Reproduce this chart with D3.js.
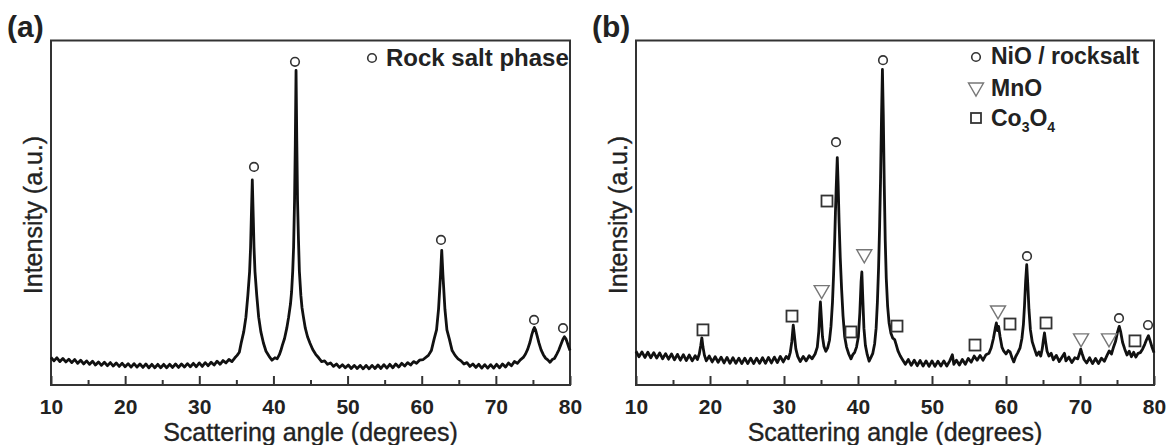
<!DOCTYPE html>
<html>
<head>
<meta charset="utf-8">
<script src="https://cdn.jsdelivr.net/npm/d3@7"></script>
<style>
  body { margin: 0; background: #fff; }
  svg { display: block; font-family: "Liberation Sans", Arial, sans-serif; }
</style>
</head>
<body>
<div class="graph-container"></div>
<script>
// x-axis tick values (degrees)
var majorTicks = [10, 20, 30, 40, 50, 60, 70, 80];
var minorTicks = [15, 25, 35, 45, 55, 65, 75];

// pattern (a): [angle, intensity a.u.]
var patternA = [
  [10.0,8.0],[10.4,7.0],[10.8,7.9],[11.2,6.8],[11.6,7.7],[12.0,6.7],[12.4,7.5],[12.8,6.5],[13.2,7.4],[13.6,6.3],
  [14.0,7.2],[14.4,6.1],[14.8,7.0],[15.2,6.0],[15.6,6.9],[16.0,5.8],[16.4,6.7],[16.8,5.7],[17.2,6.6],[17.6,5.6],
  [18.0,6.5],[18.4,5.5],[18.8,6.4],[19.2,5.4],[19.6,6.3],[20.0,5.3],[20.4,6.2],[20.8,5.2],[21.2,6.2],[21.6,5.2],
  [22.0,6.1],[22.4,5.1],[22.8,6.1],[23.2,5.0],[23.6,6.0],[24.0,5.0],[24.4,6.0],[24.8,5.0],[25.2,6.0],[25.6,5.0],
  [26.0,6.0],[26.4,5.1],[26.8,6.1],[27.2,5.1],[27.6,6.1],[28.0,5.2],[28.4,6.2],[28.8,5.3],[29.2,6.3],[29.6,5.3],
  [30.0,6.4],[30.4,5.4],[30.8,6.5],[31.2,5.6],[31.6,6.6],[32.0,5.8],[32.4,6.9],[32.8,6.0],[33.2,7.1],[33.6,6.4],
  [34.0,7.4],[34.4,6.8],[34.8,7.9],[35.1,8.6],[35.4,9.5],[35.65,12.2],[36.0,15.5],[36.29,19.7],[36.55,26],[36.79,33],
  [36.92,40],[37.02,48.7],[37.15,59.5],[37.28,48.7],[37.38,40],[37.51,33],[37.75,26],[38.01,19.7],[38.3,15.5],[38.65,12.2],
  [39.0,9.8],[39.4,8.4],[39.8,7.2],[40.2,7.9],[40.5,7.6],[40.8,8.8],[41.0,10.0],[41.2,11.5],[41.5,13.5],[41.8,16.5],
  [42.05,19.7],[42.3,23.5],[42.45,27],[42.6,33],[42.72,40],[42.85,53.6],[42.95,70],[43.05,91.3],[43.15,71],[43.25,53.6],
  [43.38,42],[43.5,33],[43.7,26],[43.85,22.5],[44.05,19.7],[44.3,16.5],[44.6,14],[44.92,12.2],[45.3,10.3],[45.7,8.9],
  [46.1,7.9],[46.5,6.8],[46.9,7.0],[47.3,6.0],[47.7,6.4],[48.1,5.4],[48.5,6.1],[48.9,5.1],[49.3,5.9],[49.7,5.0],
  [50.1,5.8],[50.5,4.8],[50.9,5.7],[51.3,4.8],[51.7,5.7],[52.1,4.7],[52.5,5.7],[52.9,4.7],[53.3,5.7],[53.7,4.8],
  [54.1,5.8],[54.5,4.8],[54.9,5.9],[55.3,4.9],[55.7,6.0],[56.1,5.0],[56.5,6.1],[56.9,5.2],[57.3,6.3],[57.7,5.5],
  [58.1,6.5],[58.5,5.8],[58.9,6.8],[59.3,6.3],[59.7,7.2],[60.2,7.4],[60.9,8.6],[61.3,10.0],[61.67,13.3],[62.0,16],
  [62.27,22],[62.54,32],[62.7,39.1],[62.86,32],[63.13,22],[63.4,16],[63.73,13.3],[64.1,10],[64.5,8.6],[64.9,7.6],
  [65.3,7.0],[65.7,6.1],[66.1,6.5],[66.5,5.4],[66.9,6.1],[67.3,5.1],[67.7,6.0],[68.1,4.9],[68.5,5.9],[68.9,4.9],
  [69.3,5.9],[69.7,4.9],[70.1,6.0],[70.5,5.0],[70.9,6.1],[71.3,5.2],[71.7,6.4],[72.1,5.6],[72.5,6.8],[72.9,6.3],
  [73.3,7.3],[73.7,8.0],[74.0,9.0],[74.3,10.4],[74.6,12.4],[74.85,14.6],[75.05,16.0],[75.2,16.7],[75.35,16.0],[75.55,14.4],
  [75.8,12.3],[76.1,10.2],[76.4,8.8],[76.7,7.8],[77.0,7.3],[77.3,6.6],[77.6,7.4],[77.9,7.7],[78.2,8.9],[78.5,10.2],
  [78.8,11.9],[79.05,13.3],[79.25,14.0],[79.45,13.4],[79.65,12.2],[79.85,10.9],[80.0,10.0]
];

// pattern (b)
var patternB = [
  [10.0,9.8],[10.4,8.2],[10.8,9.6],[11.2,8.0],[11.6,9.5],[12.0,7.9],[12.4,9.4],[12.8,7.8],[13.2,9.3],[13.6,7.6],
  [14.0,9.1],[14.4,7.5],[14.8,9.0],[15.2,7.3],[15.6,8.9],[16.0,7.2],[16.4,8.8],[16.8,7.1],[17.2,8.7],[17.6,7.0],
  [18.0,8.5],[18.3,7.4],[18.55,9.0],[18.75,11.5],[18.9,13.7],[19.05,11.0],[19.25,8.6],[19.5,7.0],[19.9,8.4],[20.3,6.7],
  [20.7,8.2],[21.1,6.6],[21.5,8.1],[21.9,6.4],[22.3,8.0],[22.7,6.3],[23.1,7.9],[23.5,6.3],[23.9,7.8],[24.3,6.2],
  [24.7,7.8],[25.1,6.2],[25.5,7.8],[25.9,6.2],[26.3,7.8],[26.7,6.3],[27.1,7.9],[27.5,6.3],[27.9,8.0],[28.3,6.4],
  [28.7,8.1],[29.1,6.5],[29.5,8.3],[29.9,6.7],[30.3,8.3],[30.6,7.6],[30.85,9.5],[31.05,12.5],[31.25,17.4],[31.4,14.5],
  [31.6,10.5],[31.85,8.3],[32.2,6.8],[32.6,8.3],[33.0,7.0],[33.4,8.5],[33.8,7.6],[34.2,9.0],[34.5,11.0],[34.7,15.5],
  [34.82,20.5],[34.92,24.1],[35.05,19.5],[35.2,14.0],[35.4,11.2],[35.65,9.8],[35.9,10.8],[36.15,13.0],[36.35,17.0],[36.55,24],
  [36.7,32],[36.85,42],[36.95,50],[37.05,57],[37.2,66],[37.32,58],[37.45,47],[37.6,37],[37.78,28],[37.98,20],
  [38.2,14],[38.45,11],[38.75,9.0],[39.05,7.6],[39.3,8.8],[39.55,9.5],[39.8,11],[40.05,14],[40.25,21],[40.42,30],
  [40.52,32.8],[40.65,25],[40.8,16.5],[41.0,11.5],[41.25,8.8],[41.5,6.9],[41.75,8.0],[42.0,9.2],[42.25,12.0],[42.45,16.5],
  [42.62,24],[42.78,34],[42.92,46],[43.05,60],[43.18,78],[43.3,91.6],[43.42,78],[43.55,58],[43.68,42],[43.82,31],
  [44.0,23],[44.2,18],[44.45,15],[44.7,13.6],[44.95,13.2],[45.15,11.8],[45.4,9.9],[45.7,8.5],[46.0,7.4],[46.4,6.0],
  [46.8,7.4],[47.2,5.7],[47.6,7.2],[48.0,5.6],[48.4,7.1],[48.8,5.5],[49.2,7.0],[49.6,5.4],[50.0,7.0],[50.4,5.4],
  [50.8,6.9],[51.2,5.5],[51.6,7.0],[52.0,5.5],[52.4,7.0],[52.75,8.8],[52.95,6.0],[53.3,7.2],[53.7,5.8],[54.1,7.4],
  [54.5,6.0],[54.9,7.7],[55.3,6.6],[55.7,8.4],[56.1,7.2],[56.5,8.6],[56.9,7.2],[57.3,8.8],[57.7,9.2],[58.0,10.8],
  [58.3,13.5],[58.55,16.5],[58.7,18.0],[58.85,15.8],[59.0,17.0],[59.2,14.0],[59.45,11.0],[59.7,9.8],[60.0,9.0],[60.3,10.0],
  [60.55,9.6],[60.8,8.0],[61.05,6.7],[61.3,8.2],[61.6,9.4],[61.9,10.8],[62.15,13.5],[62.35,17.5],[62.5,23],[62.65,30],
  [62.8,34.9],[62.95,29],[63.1,22],[63.3,16],[63.55,12.5],[63.85,10.5],[64.15,8.6],[64.45,9.6],[64.7,8.4],[64.9,10.5],
  [65.05,13.0],[65.2,15.1],[65.35,12.6],[65.55,9.8],[65.8,8.4],[66.1,9.2],[66.4,7.3],[66.8,8.6],[67.2,6.8],[67.6,8.2],
  [67.9,9.2],[68.1,7.0],[68.5,8.1],[68.9,6.5],[69.3,7.9],[69.7,7.6],[69.95,9.3],[70.1,10.4],[70.3,9.0],[70.55,7.4],
  [70.9,6.4],[71.3,7.9],[71.7,6.2],[72.1,7.7],[72.5,6.2],[72.9,7.8],[73.3,6.9],[73.65,8.6],[73.95,9.9],[74.25,9.0],
  [74.5,10.8],[74.8,12.6],[75.05,15.2],[75.3,17.0],[75.5,15.4],[75.75,12.4],[76.05,10.4],[76.35,8.7],[76.65,9.8],[76.95,8.2],
  [77.25,9.5],[77.55,8.1],[77.85,9.2],[78.15,9.4],[78.45,10.4],[78.75,11.8],[79.0,13.2],[79.25,14.3],[79.45,13.0],[79.7,11.2],
  [80.0,9.4]
];

// peak markers [angle, intensity]
var circlesA = [[37.38,63.3],[42.91,93.8],[62.6,42.1],[75.15,18.9],[79.06,16.5]];
var circlesB = [[37.03,70.5],[43.38,94.3],[62.84,37.4],[75.27,19.4],[79.19,17.4]];
var trianglesB = [[35.09,27.1],[40.85,37.5],[58.92,21.2],[70.14,13.1],[73.92,13.1]];
var squaresB = [[19.05,16.0],[31.08,20.0],[35.81,53.4],[39.05,15.4],[45.27,17.1],[55.81,11.6],[60.54,17.7],[65.41,18.0],[77.43,12.8]];

var svgWidth = 1169;
var svgHeight = 445;
var frameTop = 40.5;
var frameBottom = 385;
var markColor = '#333';
var triColor = '#777';
var textColor = '#222';

var svg = d3.select('.graph-container').append('svg')
  .attr('width', svgWidth)
  .attr('height', svgHeight);

function trianglePath(cx, cy) {
  return 'M' + (cx - 7.5) + ',' + (cy - 6) + 'L' + (cx + 7.5) + ',' + (cy - 6) + 'L' + cx + ',' + (cy + 7) + 'Z';
}

function drawPanel(left, right, label, data, circles, triangles, squares) {
  var g = svg.append('g');

  var xScale = d3.scaleLinear().domain([10, 80]).range([left, right]);
  var yScale = d3.scaleLinear().domain([0, 100]).range([frameBottom, frameTop]);

  // minor ticks, no labels
  var minorAxis = d3.axisBottom(xScale).tickValues(minorTicks).tickSize(-5).tickFormat('');
  g.append('g')
    .attr('transform', 'translate(0,' + frameBottom + ')')
    .call(minorAxis)
    .call(function(a) { a.select('.domain').remove(); })
    .selectAll('line').attr('stroke', '#333').attr('stroke-width', 2);

  var xAxis = d3.axisBottom(xScale).tickValues(majorTicks).tickSize(-9).tickPadding(14);
  var ax = g.append('g')
    .attr('transform', 'translate(0,' + frameBottom + ')')
    .call(xAxis);
  ax.select('.domain').remove();
  ax.selectAll('line').attr('stroke', '#333').attr('stroke-width', 2);
  ax.selectAll('text')
    .attr('fill', textColor)
    .style('font-size', '21px')
    .style('font-weight', 'bold')
    .style('font-family', '"Liberation Sans", Arial, sans-serif');

  // frame
  g.append('rect')
    .attr('x', left)
    .attr('y', frameTop)
    .attr('width', right - left)
    .attr('height', frameBottom - frameTop)
    .attr('fill', 'none')
    .attr('stroke', '#333')
    .attr('stroke-width', 2);

  // pattern line
  var line = d3.line()
    .x(function(d) { return xScale(d[0]); })
    .y(function(d) { return yScale(d[1]); });

  g.append('path')
    .datum(data)
    .attr('d', line)
    .attr('fill', 'none')
    .attr('stroke', '#111')
    .attr('stroke-width', 2.8)
    .attr('stroke-linejoin', 'round');

  // markers
  g.selectAll('circle.peak')
    .data(circles)
    .enter()
    .append('circle')
    .attr('class', 'peak')
    .attr('cx', function(d) { return xScale(d[0]); })
    .attr('cy', function(d) { return yScale(d[1]); })
    .attr('r', 4.3)
    .attr('fill', '#fff')
    .attr('stroke', markColor)
    .attr('stroke-width', 1.6);

  g.selectAll('path.tri')
    .data(triangles)
    .enter()
    .append('path')
    .attr('class', 'tri')
    .attr('d', function(d) { return trianglePath(xScale(d[0]), yScale(d[1])); })
    .attr('fill', '#fff')
    .attr('stroke', triColor)
    .attr('stroke-width', 1.4);

  g.selectAll('rect.sq')
    .data(squares)
    .enter()
    .append('rect')
    .attr('class', 'sq')
    .attr('x', function(d) { return xScale(d[0]) - 5.5; })
    .attr('y', function(d) { return yScale(d[1]) - 5.5; })
    .attr('width', 11)
    .attr('height', 11)
    .attr('fill', '#fff')
    .attr('stroke', markColor)
    .attr('stroke-width', 1.8);

  // panel label
  g.append('text')
    .attr('x', left - 44)
    .attr('y', 37)
    .style('font-size', '30px')
    .style('font-weight', 'bold')
    .attr('fill', textColor)
    .text(label);

  // axis titles (slight stroke to match the heavier print)
  g.append('text')
    .attr('x', (left + right) / 2)
    .attr('y', 441)
    .style('text-anchor', 'middle')
    .style('font-size', '25px')
    .attr('fill', textColor)
    .attr('stroke', textColor)
    .attr('stroke-width', 0.35)
    .text('Scattering angle (degrees)');

  g.append('text')
    .attr('transform', 'translate(' + (left - 9) + ',215) rotate(-90)')
    .style('text-anchor', 'middle')
    .style('font-size', '25px')
    .attr('fill', textColor)
    .attr('stroke', textColor)
    .attr('stroke-width', 0.35)
    .text('Intensity (a.u.)');

  return g;
}

var panelA = drawPanel(51, 570, '(a)', patternA, circlesA, [], []);
var panelB = drawPanel(636, 1154, '(b)', patternB, circlesB, trianglesB, squaresB);

// legend (a)
panelA.append('circle')
  .attr('cx', 372).attr('cy', 58).attr('r', 4.3)
  .attr('fill', '#fff').attr('stroke', markColor).attr('stroke-width', 1.6);
panelA.append('text')
  .attr('x', 386).attr('y', 66)
  .style('font-size', '24px').style('font-weight', 'bold')
  .attr('fill', textColor)
  .text('Rock salt phase');

// legend (b)
panelB.append('circle')
  .attr('cx', 976).attr('cy', 57).attr('r', 4.3)
  .attr('fill', '#fff').attr('stroke', markColor).attr('stroke-width', 1.6);
panelB.append('path')
  .attr('d', trianglePath(976, 89))
  .attr('fill', '#fff').attr('stroke', triColor).attr('stroke-width', 1.4);
panelB.append('rect')
  .attr('x', 971).attr('y', 113).attr('width', 10).attr('height', 10)
  .attr('fill', '#fff').attr('stroke', markColor).attr('stroke-width', 1.8);

panelB.append('text')
  .attr('x', 991).attr('y', 64)
  .style('font-size', '23px').style('font-weight', 'bold')
  .attr('fill', textColor)
  .text('NiO / rocksalt');
panelB.append('text')
  .attr('x', 991).attr('y', 96)
  .style('font-size', '23px').style('font-weight', 'bold')
  .attr('fill', textColor)
  .text('MnO');

var co = panelB.append('text')
  .attr('x', 991).attr('y', 126)
  .style('font-size', '23px').style('font-weight', 'bold')
  .attr('fill', textColor);
co.append('tspan').text('Co');
co.append('tspan').attr('dy', 6).style('font-size', '14px').text('3');
co.append('tspan').attr('dy', -6).text('O');
co.append('tspan').attr('dy', 6).style('font-size', '14px').text('4');
</script>
</body>
</html>
